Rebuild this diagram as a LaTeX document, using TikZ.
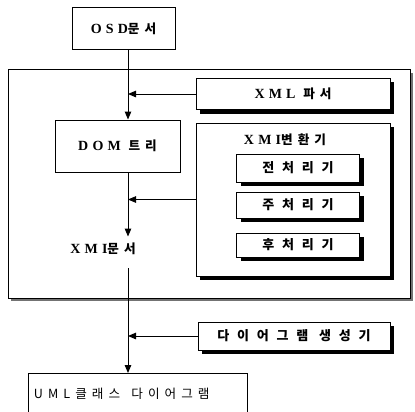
\documentclass[tikz,border=0pt]{standalone}
\usepackage{fontspec}
\setmainfont{Liberation Serif}[LetterSpace=30]
\newfontfamily\krfont{Noto Sans CJK KR}[Scale=0.9, LetterSpace=40]
\newfontfamily\krwide{Noto Sans CJK KR}[LetterSpace=60]
\usetikzlibrary{arrows, arrows.meta, positioning, shadows}

\tikzset{
    box/.style={draw, line width=1pt, fill=white, inner sep=0pt, font=\bfseries\fontsize{14}{16}\selectfont},
    shadowbox/.style={box, drop shadow={shadow xshift=4pt, shadow yshift=-4pt, fill=black, opacity=1}},
    stagebox/.style={shadowbox, minimum width=123pt, font=\krwide\bfseries\fontsize{13}{15}\selectfont},
    flow/.style={-{Triangle[length=8pt, width=6.5pt]}, line width=1pt}
}

\begin{document}
\begin{tikzpicture}[x=1pt, y=-1pt]
    \useasboundingbox (0,0) rectangle (415,412);
    \coordinate (spine) at (128,0);

    % Outer frame
    \node[draw, line width=1pt, fill=white, minimum width=402pt, minimum height=228pt,
          drop shadow={shadow xshift=3pt, shadow yshift=-3pt, fill=black!55, opacity=1}] (frame) at (209,184) {};

    % Nodes
    \node[box, minimum width=103pt, minimum height=42pt] (osd) at (123.5,29) {OSD{\krfont 문서}};
    \node[shadowbox, minimum width=194pt, minimum height=31pt] (parser) at (293,94) {XML {\krfont 파서}};
    \node[box, minimum width=125pt, minimum height=52pt] (dom) at (117.5,146) {DOM {\krfont 트리}};

    \node[shadowbox, minimum width=194pt, minimum height=153pt] (conv) at (293,199.5) {};
    \node[font=\bfseries\fontsize{14}{16}\selectfont] (convtitle) at (285,140) {XMI{\krfont 변환기}};
    \node[stagebox, minimum height=28pt] (pre) at (298,168) {전처리기};
    \node[stagebox, minimum height=26pt] (main) at (298,205) {주처리기};
    \node[stagebox, minimum height=24pt] (post) at (298,245) {후처리기};

    \node[font=\bfseries\fontsize{14}{16}\selectfont] (xmi) at (103,249) {XMI{\krfont 문서}};

    \node[shadowbox, minimum width=192pt, minimum height=28pt, font=\krwide\bfseries\fontsize{13}{15}\selectfont] (gen) at (294,336) {다이어그램 생성기};
    \node[draw, line width=1pt, fill=white, text width=207pt, inner xsep=6pt, align=left, minimum height=46pt,
          font=\krfont\fontsize{14}{16}\selectfont, anchor=north, text depth=6pt] (uml) at (137.5,373) {UML클래스\hspace{0.9em}다이어그램};

    % Arrows
    \draw[flow] (osd.south -| spine) -- (dom.north -| spine);
    \draw[flow] (parser.west) -- (parser.west -| spine);
    \draw[flow, shorten >=3pt] (dom.south -| spine) -- (xmi.north -| spine);
    \draw[flow] (conv.west) -- (conv.west -| spine);
    \draw[flow, shorten <=10pt] (xmi.south -| spine) -- (uml.north -| spine);
    \draw[flow] (gen.west) -- (gen.west -| spine);
\end{tikzpicture}
\end{document}
